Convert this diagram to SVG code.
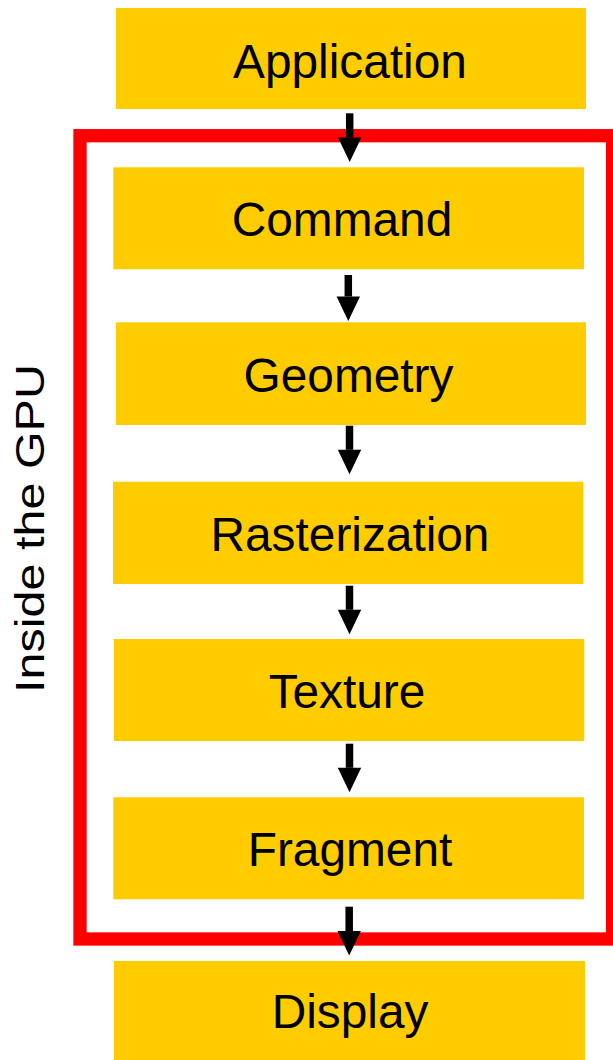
<svg xmlns="http://www.w3.org/2000/svg" width="613" height="1060" viewBox="0 0 613 1060">
  <style>
    .box { fill: #FFCC00; }
    .lbl { font-family: "Liberation Sans", Arial, sans-serif; font-size: 47.8px; fill: #000; text-anchor: middle; }
    .side { font-family: "Liberation Sans", Arial, sans-serif; font-size: 41px; fill: #000; text-anchor: middle; }
    .conn { stroke: #000; stroke-width: 7.5; fill: none; marker-end: url(#ah); }
  </style>
  <defs>
    <marker id="ah" markerUnits="userSpaceOnUse" markerWidth="25" markerHeight="24" refX="0" refY="11.7" orient="auto" viewBox="0 0 25 24" overflow="visible">
      <path d="M0,0 L24.5,11.7 L0,23.4 Z" fill="#000"/>
    </marker>
  </defs>
  <rect width="613" height="1060" fill="#fff"/>

  <g id="gpu-frame">
    <rect x="80" y="135.7" width="532.6" height="803.3" fill="none" stroke="#FF0000" stroke-width="13.3"/>
    <text class="side" transform="translate(44,528.5) rotate(-90)" x="0" y="0" textLength="329" lengthAdjust="spacingAndGlyphs">Inside the GPU</text>
  </g>

  <g id="application">
    <rect class="box" x="116" y="8" width="470" height="101"/>
    <text class="lbl" x="350" y="77.5">Application</text>
  </g>
  <g id="command">
    <rect class="box" x="113.3" y="167.3" width="470.7" height="102"/>
    <text class="lbl" x="342" y="236">Command</text>
  </g>
  <g id="geometry">
    <rect class="box" x="116" y="322.3" width="470" height="102.7"/>
    <text class="lbl" x="348.5" y="391.5">Geometry</text>
  </g>
  <g id="rasterization">
    <rect class="box" x="113" y="481.7" width="470.3" height="102.3"/>
    <text class="lbl" x="350" y="551">Rasterization</text>
  </g>
  <g id="texture">
    <rect class="box" x="114" y="639" width="470.3" height="102"/>
    <text class="lbl" x="347" y="708">Texture</text>
  </g>
  <g id="fragment">
    <rect class="box" x="113.3" y="797.3" width="470.7" height="102"/>
    <text class="lbl" x="350" y="866">Fragment</text>
  </g>
  <g id="display">
    <rect class="box" x="114" y="961" width="471" height="99"/>
    <text class="lbl" x="350" y="1028.3">Display</text>
  </g>

  <g id="connectors">
    <line class="conn" x1="349.7" y1="113.3" x2="349.7" y2="137.5"/>
    <line class="conn" x1="348.3" y1="275" x2="348.3" y2="296.5"/>
    <line class="conn" x1="349.5" y1="425.7" x2="349.5" y2="449.8"/>
    <line class="conn" x1="349.5" y1="585.7" x2="349.5" y2="609.8"/>
    <line class="conn" x1="349.5" y1="743.7" x2="349.5" y2="767.8"/>
    <line class="conn" x1="349.2" y1="906.7" x2="349.2" y2="931"/>
  </g>
</svg>
